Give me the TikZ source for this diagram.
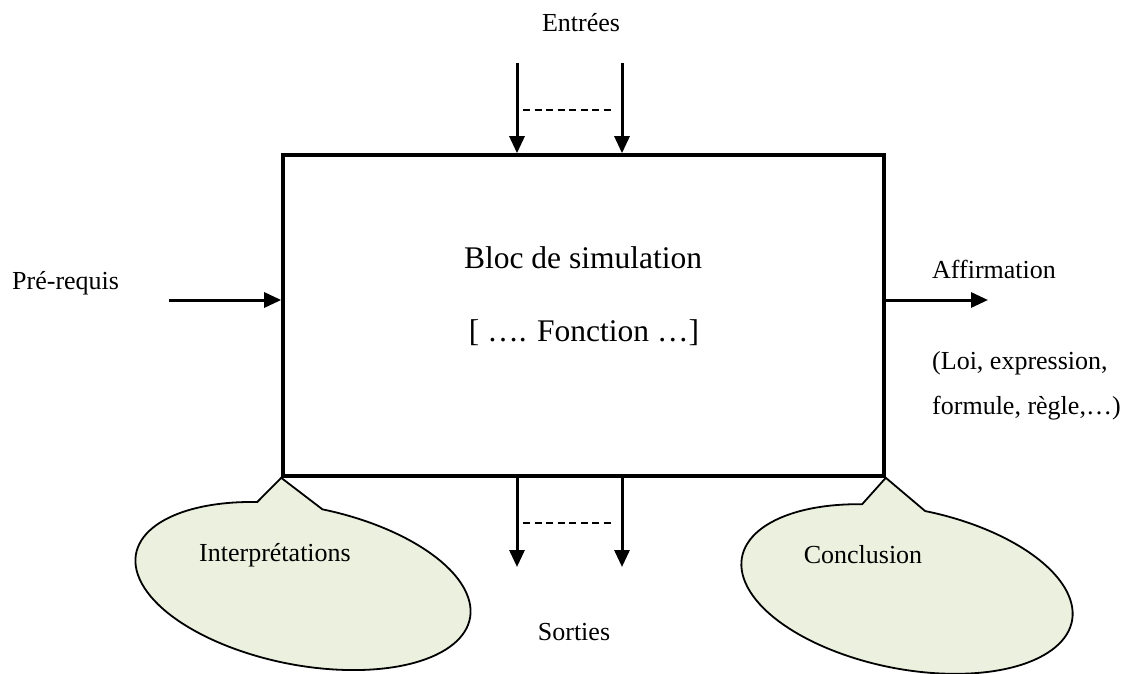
\documentclass[tikz,border=0pt]{standalone}
\usepackage{fontspec}
\setmainfont{Liberation Serif}
\usetikzlibrary{arrows.meta}
\definecolor{callfill}{RGB}{235,241,222}
\begin{document}
\begin{tikzpicture}[x=1pt,y=-1pt,
  lbl/.style={inner sep=0pt, font=\fontsize{26}{31}\selectfont},
  big/.style={inner sep=0pt, font=\fontsize{31.5}{38}\selectfont},
  arr/.style={line width=3pt, -{Triangle[length=17pt,width=15pt]}},
  dsh/.style={line width=2pt, dash pattern=on 7pt off 4.5pt},
  callout/.style={draw=black, line width=1.8pt, fill=callfill, line join=miter},
  blocbox/.style={draw, line width=3.6pt, minimum width=601pt, minimum height=321pt, inner sep=0pt}
]
\useasboundingbox (0,0) rectangle (1127,673);

% main block
\node[blocbox] (bloc) at (583.5,315.5) {};
\node[big] (t1) at (583,258) {Bloc de simulation};
\node[big] (t2) at (584,333) {[ …. Fonction …]};

% inputs
\coordinate (e1) at (517,63);
\coordinate (e2) at (622,63);
\draw[arr] (e1) -- (e1 |- bloc.north);
\draw[arr] (e2) -- (e2 |- bloc.north);
\coordinate (d1a) at (523,110);
\coordinate (d1b) at (612,110);
\draw[dsh] (d1a) -- (d1b);
\node[lbl] (entrees) at (581,23) {Entrées};

% outputs
\coordinate (s1) at (517,567);
\coordinate (s2) at (622,567);
\draw[arr] (s1 |- bloc.south) -- (s1);
\draw[arr] (s2 |- bloc.south) -- (s2);
\coordinate (d2a) at (523,523);
\coordinate (d2b) at (612,523);
\draw[dsh] (d2a) -- (d2b);
\node[lbl] (sorties) at (574,632) {Sorties};

% prerequisites
\coordinate (pr) at (169,300);
\draw[arr] (pr) -- (pr -| bloc.west);
\node[lbl, anchor=west] (prereq) at (12,283) {Pré-requis};

% affirmation
\coordinate (af) at (988,300);
\draw[arr] (af -| bloc.east) -- (af);
\node[lbl, anchor=west] (affirm) at (932,269) {Affirmation};
\node[lbl, anchor=west] (loi) at (932,363) {(Loi, expression,};
\node[lbl, anchor=west] (form) at (932,408) {formule, règle,…)};

% callouts
\begin{scope}[shift={(303,586)}, rotate=-11]
\draw[callout] (bloc.south west) -- (249:170 and 79)
  arc[start angle=249, end angle=-88.5, x radius=170, y radius=79] -- cycle;
\end{scope}
\begin{scope}[shift={(907,589)}, rotate=-11]
\draw[callout] (bloc.south east) -- (249:168 and 80)
  arc[start angle=249, end angle=-89, x radius=168, y radius=80] -- cycle;
\end{scope}
\node[lbl] (interp) at (275,555) {Interprétations};
\node[lbl] (concl) at (863,555) {Conclusion};
\end{tikzpicture}
\end{document}
